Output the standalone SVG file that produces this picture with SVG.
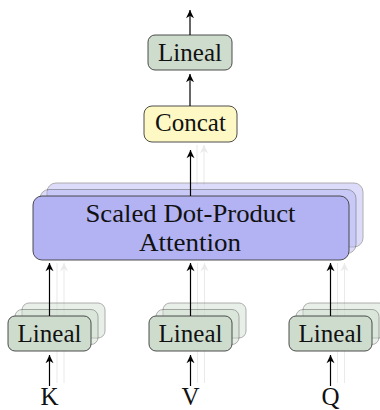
<svg xmlns="http://www.w3.org/2000/svg" width="380" height="410" viewBox="0 0 380 410">
  <style>
    .lbl { font-family: "Liberation Serif", "DejaVu Serif", serif; font-size: 25px; fill: #111; text-anchor: middle; }
    .box { stroke: #3a3a3a; stroke-width: 0.9; }
    .att { fill: #b3b3f4; }
    .att-b { fill: #b3b3f4; opacity: 0.45; }
    .lin { fill: #cddccd; }
    .lin-b { fill: #cddccd; opacity: 0.45; }
    .cat { fill: #fdf8c4; }
    .wire { stroke: #000; stroke-width: 1.2; fill: none; marker-end: url(#tip); }
    .ghost { stroke: #000; stroke-width: 1; fill: none; opacity: 0.08; marker-end: url(#tip); }
  </style>
  <defs>
    <marker id="tip" markerUnits="userSpaceOnUse" markerWidth="10" markerHeight="10" viewBox="-7 -4 8 8" refX="0" refY="0" orient="auto">
      <path d="M0,0 L-6.5,-3.2 L-4.6,0 L-6.5,3.2 Z" fill="#000"/>
    </marker>
  </defs>

  <!-- faint arrows of the stacked heads -->
  <g id="ghosts">
    <path class="ghost" d="M57,383 V263 M64,383 V263"/>
    <path class="ghost" d="M197.5,383 V263 M204.5,383 V263"/>
    <path class="ghost" d="M337.5,383 V263 M344.5,383 V263"/>
    <path class="ghost" d="M197,185 V145 M204,185 V145"/>
  </g>

  <!-- three stacked input projections -->
  <g id="lineal-k">
    <rect class="box lin-b" x="22" y="303" width="83" height="35" rx="7"/>
    <rect class="box lin-b" x="15" y="309.5" width="83" height="35" rx="7"/>
    <rect class="box lin" x="8" y="316" width="83" height="35" rx="7"/>
    <text class="lbl" x="49.5" y="342">Lineal</text>
  </g>
  <g id="lineal-v">
    <rect class="box lin-b" x="163" y="303" width="83" height="35" rx="7"/>
    <rect class="box lin-b" x="156" y="309.5" width="83" height="35" rx="7"/>
    <rect class="box lin" x="149" y="316" width="83" height="35" rx="7"/>
    <text class="lbl" x="190.5" y="342">Lineal</text>
  </g>
  <g id="lineal-q">
    <rect class="box lin-b" x="303" y="303" width="83" height="35" rx="7"/>
    <rect class="box lin-b" x="296" y="309.5" width="83" height="35" rx="7"/>
    <rect class="box lin" x="289" y="316" width="83" height="35" rx="7"/>
    <text class="lbl" x="330.5" y="342">Lineal</text>
  </g>

  <!-- attention heads -->
  <g id="attention">
    <rect class="box att-b" x="47" y="183" width="316" height="64" rx="9"/>
    <rect class="box att-b" x="40" y="189.5" width="316" height="64" rx="9"/>
    <rect class="box att" x="33" y="196" width="316" height="64" rx="9"/>
    <text class="lbl" x="190.5" y="222" textLength="210" lengthAdjust="spacingAndGlyphs">Scaled Dot-Product</text>
    <text class="lbl" x="190" y="251" textLength="102" lengthAdjust="spacingAndGlyphs">Attention</text>
  </g>

  <g id="concat">
    <rect class="box cat" x="144" y="106" width="93" height="36" rx="8"/>
    <text class="lbl" x="190.5" y="131">Concat</text>
  </g>

  <g id="lineal-out">
    <rect class="box lin" x="148" y="35" width="84" height="35" rx="7"/>
    <text class="lbl" x="190" y="61">Lineal</text>
  </g>

  <!-- inputs -->
  <g id="inputs">
    <text class="lbl" x="49.5" y="405">K</text>
    <text class="lbl" x="190.5" y="405">V</text>
    <text class="lbl" x="330.5" y="405">Q</text>
  </g>

  <g id="connectors">
    <path class="wire" d="M49.5,386 V355"/>
    <path class="wire" d="M190.5,386 V355"/>
    <path class="wire" d="M330.5,386 V355"/>
    <path class="wire" d="M49.5,316 V263"/>
    <path class="wire" d="M190.5,316 V263"/>
    <path class="wire" d="M330.5,316 V263"/>
    <path class="wire" d="M190.5,196 V150"/>
    <path class="wire" d="M190,106 V74"/>
    <path class="wire" d="M190,35 V10"/>
  </g>
</svg>
